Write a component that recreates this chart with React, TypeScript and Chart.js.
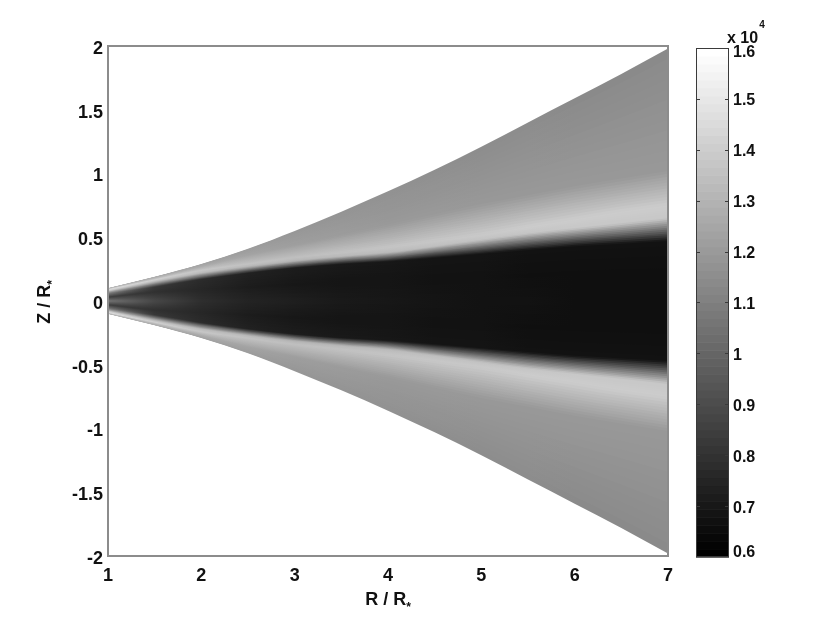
import React, { useEffect, useRef } from "react";
import { Chart, registerables } from "chart.js";

Chart.register(...registerables);

// ---- data ----
// radial sample positions (R / R*)
const radii = [1, 1.5, 2, 2.5, 3, 3.5, 4, 4.5, 5, 5.5, 6, 6.5, 7];

// characteristic iso-lines of the upper half (Z / R*) and temperature (x 1e4 K) on them
const zSurface = [0.10, 0.19, 0.29, 0.41, 0.55, 0.70, 0.86, 1.03, 1.21, 1.40, 1.59, 1.78, 1.98];
const tSurface = [1.29, 1.26, 1.23, 1.21, 1.19, 1.18, 1.17, 1.16, 1.15, 1.15, 1.14, 1.14, 1.14];

const zWarm = [0.095, 0.18, 0.27, 0.36, 0.44, 0.52, 0.60, 0.68, 0.76, 0.83, 0.90, 0.96, 1.02];
const tWarm = [1.33, 1.30, 1.27, 1.24, 1.22, 1.21, 1.20, 1.20, 1.20, 1.20, 1.20, 1.20, 1.20];

const zBright = [0.088, 0.165, 0.24, 0.29, 0.34, 0.38, 0.42, 0.47, 0.52, 0.58, 0.64, 0.70, 0.75];
const tBright = [1.47, 1.42, 1.38, 1.36, 1.35, 1.36, 1.37, 1.38, 1.39, 1.40, 1.40, 1.40, 1.40];

const zBrightLow = [0.080, 0.155, 0.22, 0.27, 0.315, 0.35, 0.38, 0.43, 0.48, 0.53, 0.57, 0.61, 0.65];
const tBrightLow = [1.40, 1.36, 1.33, 1.32, 1.31, 1.32, 1.33, 1.35, 1.36, 1.37, 1.38, 1.38, 1.38];

const zCoreEdge = [0.060, 0.110, 0.170, 0.22, 0.26, 0.29, 0.31, 0.34, 0.37, 0.40, 0.43, 0.45, 0.47];
const tCoreEdge = [1.08, 0.82, 0.77, 0.73, 0.71, 0.70, 0.69, 0.68, 0.68, 0.67, 0.67, 0.67, 0.67];

const zCoreInner = [0.030, 0.070, 0.090, 0.11, 0.13, 0.15, 0.16, 0.17, 0.19, 0.20, 0.22, 0.23, 0.24];
const tCoreInner = [0.84, 0.79, 0.75, 0.71, 0.69, 0.68, 0.68, 0.67, 0.67, 0.66, 0.66, 0.66, 0.66];

const zMidplane = [0, 0, 0, 0, 0, 0, 0, 0, 0, 0, 0, 0, 0];
const tMidplane = [1.05, 0.88, 0.78, 0.74, 0.72, 0.70, 0.69, 0.68, 0.67, 0.67, 0.66, 0.66, 0.66];

// axes / colour bar
const xTickValues = [1, 2, 3, 4, 5, 6, 7];
const yTickValues = [-2, -1.5, -1, -0.5, 0, 0.5, 1, 1.5, 2];
const colorTicks = [0.6, 0.7, 0.8, 0.9, 1.0, 1.1, 1.2, 1.3, 1.4, 1.5, 1.6];
const colorMin = 0.6;
const colorMax = 1.6;
const colorExponent = "4";

const FONT = "'Liberation Sans', Arial, Helvetica, sans-serif";

function grayLevel(t: number): number {
  const f = Math.max(0, Math.min(1, (t - colorMin) / (colorMax - colorMin)));
  return Math.round(f * 255);
}
function grayOf(t: number): string {
  const v = grayLevel(t);
  return `rgb(${v},${v},${v})`;
}

const levels = [
  { z: zSurface, t: tSurface },
  { z: zWarm, t: tWarm },
  { z: zBright, t: tBright },
  { z: zBrightLow, t: tBrightLow },
  { z: zCoreEdge, t: tCoreEdge },
  { z: zCoreInner, t: tCoreInner },
  { z: zMidplane, t: tMidplane },
];

function buildDatasets() {
  const SUB = 12;
  const out: any[] = [];
  for (const sign of [1, -1]) {
    let s = 0;
    for (let k = 0; k < levels.length - 1; k++) {
      const A = levels[k];
      const B = levels[k + 1];
      for (let j = 0; j < SUB; j++) {
        const f = j / SUB;
        const fm = (j + 0.5) / SUB;
        const data = radii.map((r, i) => ({ x: r, y: sign * (A.z[i] + (B.z[i] - A.z[i]) * f) }));
        const temps = radii.map((_, i) => A.t[i] + (B.t[i] - A.t[i]) * fm);
        out.push({
          data,
          borderWidth: 0,
          borderColor: "rgba(0,0,0,0)",
          pointRadius: 0,
          pointHoverRadius: 0,
          fill: "origin",
          cubicInterpolationMode: "monotone",
          order: 10000 - s,
          backgroundColor: (ctx: any) => {
            const chart = ctx.chart;
            const area = chart.chartArea;
            const xs = chart.scales.x;
            if (!area || !xs) return grayOf(temps[temps.length - 1]);
            const g = chart.ctx.createLinearGradient(
              xs.getPixelForValue(radii[0]), 0,
              xs.getPixelForValue(radii[radii.length - 1]), 0
            );
            radii.forEach((r, i) => {
              const p = (r - radii[0]) / (radii[radii.length - 1] - radii[0]);
              g.addColorStop(p, grayOf(temps[i]));
            });
            return g;
          },
        });
        s++;
      }
    }
  }
  return out;
}

const decorations = {
  id: "decorations",
  afterDraw(chart: any) {
    const { ctx, chartArea: a } = chart;
    const cb = chart.scales.cb;
    ctx.save();

    // plot frame
    ctx.strokeStyle = "#8c8c8c";
    ctx.lineWidth = 2;
    ctx.strokeRect(a.left, a.top, a.right - a.left, a.bottom - a.top);

    // colour bar
    const bx0 = 696;
    const bx1 = 729;
    const yTop = cb.getPixelForValue(colorMax) + 2;
    const yBot = cb.getPixelForValue(colorMin) + 1;
    const steps = 64;
    for (let i = 0; i < steps; i++) {
      const v0 = colorMin + ((colorMax - colorMin) * i) / steps;
      const v1 = colorMin + ((colorMax - colorMin) * (i + 1)) / steps;
      const y0 = yBot + ((yTop - yBot) * (v0 - colorMin)) / (colorMax - colorMin);
      const y1 = yBot + ((yTop - yBot) * (v1 - colorMin)) / (colorMax - colorMin);
      const g = Math.round((i / (steps - 1)) * 255);
      ctx.fillStyle = `rgb(${g},${g},${g})`;
      ctx.fillRect(bx0, y1, bx1 - bx0, y0 - y1 + 0.6);
    }
    ctx.strokeStyle = "#3a3a3a";
    ctx.lineWidth = 1;
    ctx.strokeRect(bx0 + 0.5, yTop + 0.5, bx1 - bx0 - 1, yBot - yTop - 1);

    ctx.fillStyle = "#111";
    ctx.font = `bold 16px ${FONT}`;
    ctx.textAlign = "left";
    ctx.textBaseline = "middle";
    for (const v of colorTicks) {
      const yy = yBot + ((yTop - yBot) * (v - colorMin)) / (colorMax - colorMin);
      const y = Math.round(yy) + 0.5;
      if (v > colorMin && v < colorMax) {
        ctx.beginPath();
        ctx.moveTo(bx0, y);
        ctx.lineTo(bx0 + 4, y);
        ctx.moveTo(bx1, y);
        ctx.lineTo(bx1 - 4, y);
        ctx.stroke();
      }
      const label = String(Math.round(v * 10) / 10);
      let ly = yy + 2;
      if (v === colorMin) ly = yy - 4;
      if (v === colorMax) ly = yy + 5;
      ctx.fillText(label, bx1 + 4, ly);
    }
    // "x 10^4"
    ctx.textBaseline = "alphabetic";
    ctx.font = `bold 16px ${FONT}`;
    ctx.fillText("x 10", 727, 43);
    const w = ctx.measureText("x 10").width;
    ctx.font = `bold 10px ${FONT}`;
    ctx.fillText(colorExponent, 727 + w + 1, 28);

    // axis titles with subscript star
    const drawTitle = (cx: number, baseY: number) => {
      ctx.font = `bold 18px ${FONT}`;
      const main = "R / R";
      const mw = ctx.measureText(main).width;
      ctx.font = `bold 12px ${FONT}`;
      const sw = ctx.measureText("*").width;
      const total = mw + sw;
      ctx.font = `bold 18px ${FONT}`;
      ctx.textAlign = "left";
      ctx.fillText(main, cx - total / 2, baseY);
      ctx.font = `bold 12px ${FONT}`;
      ctx.fillText("*", cx - total / 2 + mw, baseY + 6);
    };
    const drawTitleZ = () => {
      ctx.save();
      ctx.translate(43, 302);
      ctx.rotate(-Math.PI / 2);
      ctx.font = `bold 18px ${FONT}`;
      const main = "Z / R";
      const mw = ctx.measureText(main).width;
      ctx.font = `bold 12px ${FONT}`;
      const sw = ctx.measureText("*").width;
      const total = mw + sw;
      ctx.font = `bold 18px ${FONT}`;
      ctx.textAlign = "left";
      ctx.fillText(main, -total / 2, 7);
      ctx.font = `bold 12px ${FONT}`;
      ctx.fillText("*", -total / 2 + mw, 13);
      ctx.restore();
    };
    ctx.fillStyle = "#111";
    drawTitle((a.left + a.right) / 2, 605);
    drawTitleZ();

    ctx.restore();
  },
};

export default function App() {
  const ref = useRef<HTMLCanvasElement>(null);
  useEffect(() => {
    document.body.style.margin = "0";
    const canvas = ref.current;
    if (!canvas) return;
    const chart = new Chart(canvas, {
      type: "line",
      data: { datasets: buildDatasets() },
      options: {
        responsive: false,
        animation: false,
        events: [],
        layout: { padding: { left: 0, top: 46, right: 162, bottom: 0 } },
        plugins: {
          legend: { display: false },
          tooltip: { enabled: false },
          filler: { propagate: false },
        },
        scales: {
          x: {
            type: "linear",
            min: 1,
            max: 7,
            afterBuildTicks: (s: any) => {
              s.ticks = xTickValues.map((v) => ({ value: v }));
            },
            ticks: {
              font: { family: FONT, size: 18, weight: "bold" },
              color: "#111",
              padding: 9,
              maxRotation: 0,
              autoSkip: false,
              callback: (v: any) => String(v),
            },
            grid: { display: false, drawTicks: false },
            border: { display: false },
            afterFit: (s: any) => {
              s.height = 69;
            },
          },
          y: {
            type: "linear",
            min: -2,
            max: 2,
            afterBuildTicks: (s: any) => {
              s.ticks = yTickValues.map((v) => ({ value: v }));
            },
            ticks: {
              font: { family: FONT, size: 18, weight: "bold" },
              color: "#111",
              padding: 5,
              labelOffset: 3,
              autoSkip: false,
              callback: (v: any) => String(v),
            },
            grid: { display: false, drawTicks: false },
            border: { display: false },
            afterFit: (s: any) => {
              s.width = 108;
            },
          },
          cb: {
            type: "linear",
            axis: "y",
            position: "right",
            display: false,
            min: colorMin,
            max: colorMax,
          },
        },
      } as any,
      plugins: [decorations],
    });
    return () => chart.destroy();
  }, []);
  return (
    <div style={{ width: 830, height: 625, background: "#fff" }}>
      <canvas ref={ref} width={830} height={625} style={{ display: "block" }} />
    </div>
  );
}
